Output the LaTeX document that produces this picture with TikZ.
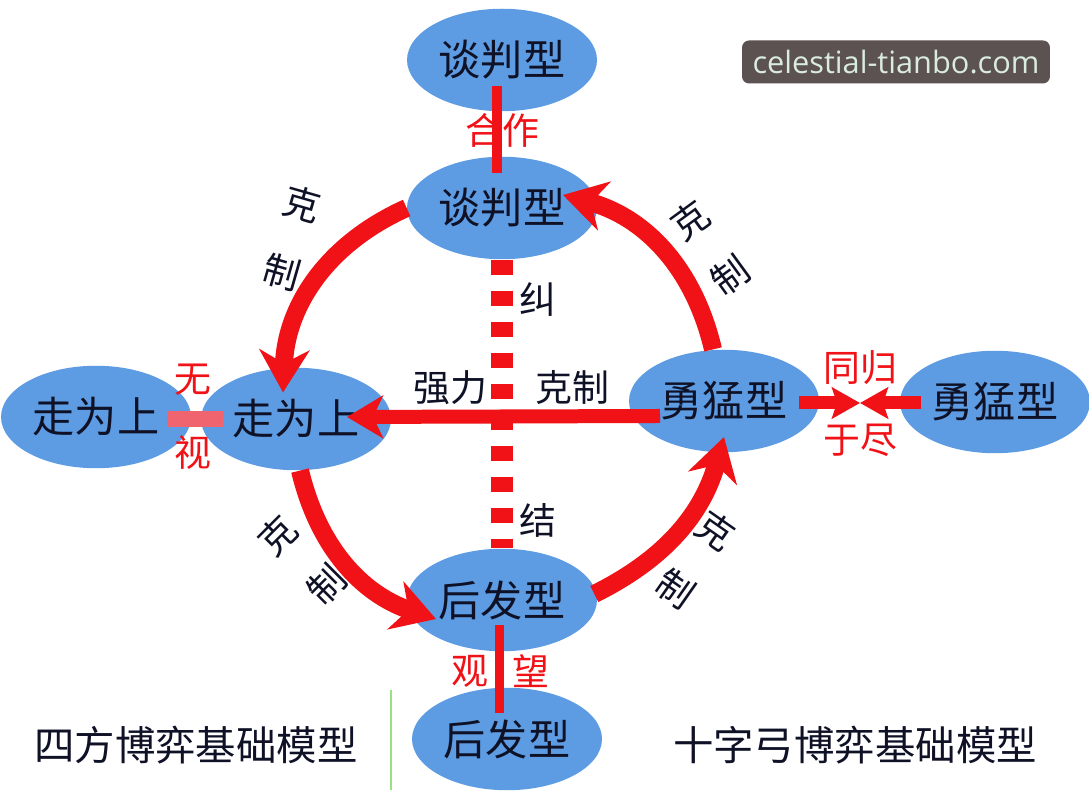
\documentclass[tikz,border=0pt]{standalone}
\usepackage{fontspec}
\newfontfamily\cjk{Noto Sans CJK SC}
\newfontfamily\wmfont{Open Sans}
\usetikzlibrary{arrows.meta, shapes.geometric, positioning}
\definecolor{typeblue}{RGB}{93,155,226}
\definecolor{linkred}{RGB}{240,18,22}
\definecolor{barpink}{RGB}{240,100,112}
\definecolor{inkdark}{RGB}{15,18,38}
\definecolor{wmgray}{RGB}{92,82,82}
\definecolor{wmtext}{RGB}{218,236,222}
\definecolor{sepgreen}{RGB}{150,225,130}
\tikzset{
  typebox/.style={ellipse, fill=typeblue, minimum width=3.8cm, minimum height=2.05cm,
    inner sep=0pt, text=inkdark, font=\cjk\fontsize{24}{28}\selectfont},
  redtag/.style={inner sep=0pt, text=linkred, font=\cjk\fontsize{21}{25}\selectfont},
  blacktag/.style={inner sep=0pt, text=inkdark, font=\cjk\fontsize{21}{25}\selectfont},
  ringarrow/.style={draw=linkred, line width=0.36cm,
    -{Stealth[length=0.85cm, width=1.0cm, inset=0.27cm]}},
  crossarrow/.style={draw=linkred, line width=0.28cm,
    -{Stealth[length=0.72cm, width=0.85cm, inset=0.2cm]}},
  clasharrow/.style={draw=linkred, line width=0.26cm,
    -{Stealth[length=0.56cm, width=0.62cm, inset=0.1cm]}},
  bondline/.style={draw=linkred, line width=0.2cm},
  tangle/.style={draw=linkred, line width=0.44cm, dash pattern=on 0.3cm off 0.32cm},
  ignorebar/.style={draw=barpink, line width=0.32cm}
}

\begin{document}
\begin{tikzpicture}[x=0.02cm, y=0.02cm]
  \useasboundingbox (0,0) rectangle (1089,800);
  \fill[white] (0,0) rectangle (1089,800);

  \node[typebox] (tanO) at (502,740) {谈判型};
  \node[typebox] (tanI) at (502,592) {谈判型};
  \node[typebox] (zouO) at (96,383) {走为上};
  \node[typebox] (zouI) at (296,381) {走为上};
  \node[typebox] (yongI) at (724,399) {勇猛型};
  \node[typebox] (yongO) at (995,398) {勇猛型};
  \node[typebox] (houI) at (502,200) {后发型};
  \node[typebox] (houO) at (507,61) {后发型};

  \draw[tangle] (tanI.south) -- (houI.north);
  \draw[ringarrow] (tanI.west) to[bend right=32] ([shift={(-13,-25)}]zouI.north);
  \draw[ringarrow] ([shift={(4,0)}]zouI.south) to[bend right=29] ([shift={(-66,-19)}]houI.center);
  \draw[ringarrow] ([shift={(-3,6)}]houI.east) to[bend right=24] ([shift={(0,-36)}]yongI.center);
  \draw[ringarrow] ([shift={(-11,0)}]yongI.north) to[bend right=31] ([shift={(61,13)}]tanI.center);
  \draw[crossarrow] ([shift={(-64,-15)}]yongI.center) -- ([shift={(51,2)}]zouI.center);

  \draw[bondline] ([shift={(-5,-26)}]tanO.center) -- ([shift={(-5,35)}]tanI.center);
  \draw[bondline, line width=0.18cm] ([shift={(-3,-25)}]houI.center) -- ([shift={(-8,26)}]houO.center);
  \draw[ignorebar] ([shift={(-24,-2)}]zouO.east) -- ([shift={(22,0)}]zouI.west);
  \coordinate (clash) at (860,397);
  \draw[clasharrow] ([shift={(-20,-2)}]yongI.east) -- (clash);
  \draw[clasharrow] ([shift={(21,-1)}]yongO.west) -- (clash);

  \node[redtag] (coop) at (502,670) {合作};
  \node[redtag] (watchL) at (470,129) {观};
  \node[redtag] (watchR) at (531,129) {望};
  \node[redtag] (ignoreT) at (193,420) {无};
  \node[redtag] (ignoreB) at (193,347) {视};
  \node[redtag] (perishT) at (860,432) {同归};
  \node[redtag] (perishB) at (860,360) {于尽};

  \node[blacktag] (tangleT) at (538,500) {纠};
  \node[blacktag] (tangleB) at (538,280) {结};
  \node[blacktag] (forceL) at (450,412) {强力};
  \node[blacktag] (forceR) at (572,412) {克制};
  \node[blacktag, rotate=-16] (ctlA1) at (302,596) {克};
  \node[blacktag, rotate=-16] (ctlA2) at (282,528) {制};
  \node[blacktag, rotate=36] (ctlB1) at (690,580) {克};
  \node[blacktag, rotate=36] (ctlB2) at (730,525) {制};
  \node[blacktag, rotate=45] (ctlC1) at (278,264) {克};
  \node[blacktag, rotate=45] (ctlC2) at (327,215) {制};
  \node[blacktag, rotate=-35] (ctlD1) at (716,269) {克};
  \node[blacktag, rotate=-35] (ctlD2) at (676,211) {制};

  \node[blacktag, font=\cjk\fontsize{23}{27}\selectfont] (titleL) at (196,55) {四方博弈基础模型};
  \node[blacktag, font=\cjk\fontsize{23}{27}\selectfont] (titleR) at (855,55) {十字弓博弈基础模型};
  \draw[sepgreen, line width=0.04cm] (391,110) -- (391,10);

  \node[fill=wmgray, rounded corners=0.14cm, minimum width=6.16cm, minimum height=0.86cm,
    inner sep=0pt, text=wmtext, font=\wmfont\fontsize{17.5}{20}\selectfont] (site) at (896,738) {celestial-tianbo.com};
\end{tikzpicture}
\end{document}
